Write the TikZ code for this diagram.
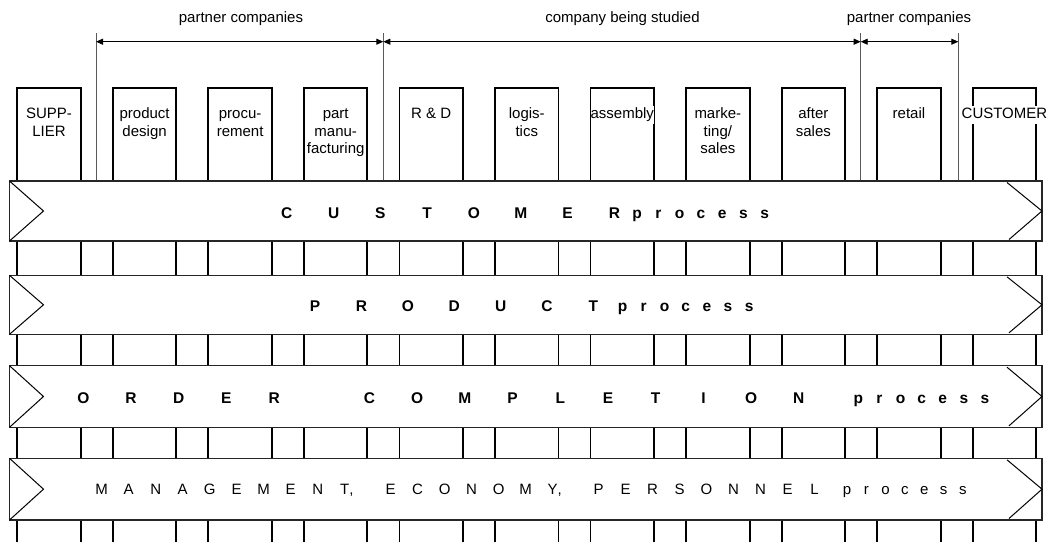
\documentclass[tikz,border=0pt]{standalone}
\usepackage{fontspec}
\setmainfont{Liberation Sans}
\usetikzlibrary{arrows.meta}
\newcommand\spreadletters[6]{%
  \foreach \ch [count=\k from 0] in {#5} {\node[#4] (#6-\k) at ({#1+\k*#2},#3) {\ch};}}
\begin{document}
\begin{tikzpicture}[x=1pt,y=-1pt,
  collines/.style={line width=1.9pt, black, line join=miter},
  bandbox/.style={draw=black!85, line width=1.3pt, fill=white},
  chev/.style={line width=1pt, black},
  divider/.style={line width=0.9pt, black!65},
  dimline/.style={line width=0.9pt, black, {Triangle[length=7pt,width=6pt]}-{Triangle[length=7pt,width=6pt]}},
  boxlabel/.style={font=\fontsize{15}{17.7}\selectfont, align=center, inner sep=0pt, fill=white, anchor=north},
  toplabel/.style={font=\fontsize{15}{18}\selectfont, anchor=base, inner sep=0pt},
  bandletter/.style={font=\fontsize{15.5}{18}\selectfont\bfseries, anchor=base, inner sep=0pt},
  bandletterlight/.style={font=\fontsize{15}{18}\selectfont, anchor=base, inner sep=0pt},
]
\useasboundingbox (0,0) rectangle (1049,542);

% columns (boxes continuing downwards)
\foreach \i in {0,...,10} {
  \pgfmathsetmacro\xl{17.3+95.54*\i}
  \pgfmathsetmacro\xr{\xl+63.5}
  \draw[collines] (\xl,542) -- (\xl,87.7) -- (\xr,87.7) -- (\xr,542);
}

% column labels
\node[boxlabel] (c1) at (49.05,105.9) {\strut SUPP-\\LIER};
\node[boxlabel] (c2) at (144.59,105.9) {\strut product\\design};
\node[boxlabel] (c3) at (240.13,105.9) {\strut procu-\\rement};
\node[boxlabel] (c4) at (335.67,105.9) {\strut part\\manu-\\facturing};
\node[boxlabel] (c5) at (431.21,105.9) {\strut R \& D};
\node[boxlabel] (c6) at (526.75,105.9) {\strut logis-\\tics};
\node[boxlabel] (c7) at (622.29,105.9) {\strut assembly};
\node[boxlabel] (c8) at (717.83,105.9) {\strut marke-\\ting/\\sales};
\node[boxlabel] (c9) at (813.37,105.9) {\strut after\\sales};
\node[boxlabel] (c10) at (908.91,105.9) {\strut retail};
\node[boxlabel] (c11) at (1004.45,105.9) {\strut CUSTOMER};

% dividers and dimension arrows
\coordinate (d1t) at (96,33);    \coordinate (d1b) at (96,181);
\coordinate (d2t) at (383.3,33); \coordinate (d2b) at (383.3,181);
\coordinate (d3t) at (860.7,33); \coordinate (d3b) at (860.7,181);
\coordinate (d4t) at (958.3,33); \coordinate (d4b) at (958.3,181);
\draw[divider] (d1t) -- (d1b);
\draw[divider] (d2t) -- (d2b);
\draw[divider] (d3t) -- (d3b);
\draw[divider] (d4t) -- (d4b);
\coordinate (a1) at (96,41.7);
\coordinate (a2) at (383.3,41.7);
\coordinate (a3) at (860.7,41.7);
\coordinate (a4) at (958.3,41.7);
\draw[dimline] (a1) -- (a2);
\draw[dimline] (a2) -- (a3);
\draw[dimline] (a3) -- (a4);
\node[toplabel] (t1) at (241,22.5) {partner companies};
\node[toplabel] (t2) at (622.5,22.5) {company being studied};
\node[toplabel] (t3) at (909,22.5) {partner companies};

% process bands
\foreach \t/\b in {181/241, 275.3/334.3, 365.7/427.3, 458.3/520} {
  \pgfmathsetmacro\m{(\t+\b)/2}
  \draw[bandbox] (9.5,\t) rectangle (1042,\b);
  \draw[chev] (9.5,\t) -- (43.5,\m) -- (9.5,\b);
  \draw[chev] (1007,\t+1.5) -- (1042,\m) -- (1009,\b-1.5);
}

% band texts
\spreadletters{286.8}{46.8}{218.7}{bandletter}{C,U,S,T,O,M,E,R}{cu}
\spreadletters{637}{21.3}{218.7}{bandletter}{p,r,o,c,e,s,s}{cup}

\spreadletters{315}{46.4}{311.7}{bandletter}{P,R,O,D,U,C,T}{pr}
\spreadletters{622.5}{21.1}{311.7}{bandletter}{p,r,o,c,e,s,s}{prp}

\spreadletters{83.3}{47.7}{403.7}{bandletter}{O,R,D,E,R}{or}
\spreadletters{369.5}{47.7}{403.7}{bandletter}{C,O,M,P,L,E,T,I,O,N}{co}
\spreadletters{858.3}{21.1}{403.7}{bandletter}{p,r,o,c,e,s,s}{orp}

\spreadletters{101.7}{27}{494}{bandletterlight}{M,A,N,A,G,E,M,E,N,{T\rlap{,}}}{ma}
\spreadletters{390.6}{27}{494}{bandletterlight}{E,C,O,N,O,M,{Y\rlap{,}}}{ec}
\spreadletters{598.5}{27}{494}{bandletterlight}{P,E,R,S,O,N,N,E,L}{pe}
\spreadletters{847}{19.3}{494}{bandletterlight}{p,r,o,c,e,s,s}{mp}
\end{tikzpicture}
\end{document}
